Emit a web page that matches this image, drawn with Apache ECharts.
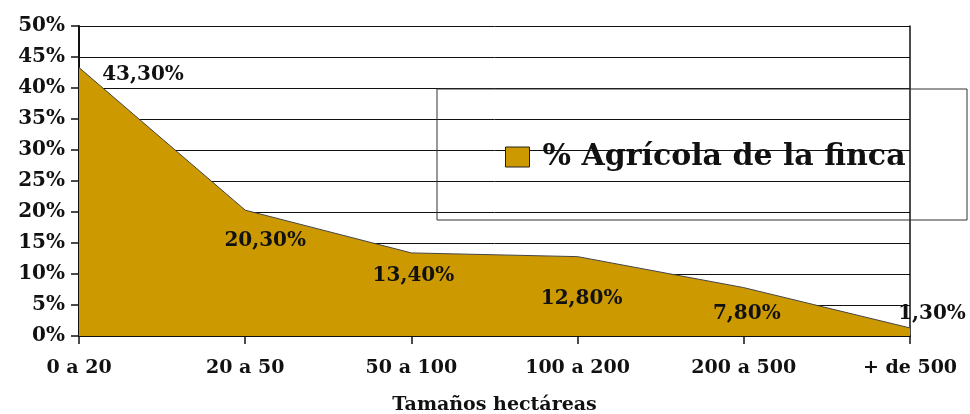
<!DOCTYPE html>
<html>
<head>
<meta charset="utf-8">
<script src="https://cdn.jsdelivr.net/npm/echarts@6/dist/echarts.min.js"></script>
<style>
html,body{margin:0;padding:0;background:#fff;}
#chart{width:970px;height:414px;}
</style>
</head>
<body>
<div id="chart"></div>
<script>
const categories = ['0 a 20', '20 a 50', '50 a 100', '100 a 200', '200 a 500', '+ de 500'];
const values = [43.3, 20.3, 13.4, 12.8, 7.8, 1.3];
const seriesName = '% Agrícola de la finca';
const axisName = 'Tamaños hectáreas';

const labelOffsets = [[64, 7], [20, 31], [2, 23], [4, 42], [3, 26], [22, -14]];
const FONT = '"DejaVu Serif", "Liberation Serif", serif';

const chart = echarts.init(document.getElementById('chart'));
const data = values.map((v, i) => ({
  value: v,
  label: { offset: labelOffsets[i] }
}));

chart.setOption({
  animation: false,
  backgroundColor: '#fff',
  grid: { left: 79, right: 60, top: 26, bottom: 78, outerBoundsMode: 'none', containLabel: false },
  legend: {
    data: [seriesName],
    left: 505,
    top: 142,
    padding: 0,
    icon: 'rect',
    itemWidth: 24,
    itemHeight: 20,
    itemGap: 10,
    itemStyle: { color: '#CC9900', borderColor: '#222', borderWidth: 1 },
    textStyle: { fontFamily: FONT, fontWeight: 'bold', fontSize: 30, color: '#111', padding: [0, 0, 0, 8] }
  },
  graphic: [{
    type: 'rect',
    shape: { x: 437, y: 89, width: 530, height: 131 },
    style: { fill: 'none', stroke: '#333', lineWidth: 1 },
    z: 10
  }],
  xAxis: {
    type: 'category',
    data: categories,
    boundaryGap: false,
    name: axisName,
    nameLocation: 'middle',
    nameGap: 60,
    nameTextStyle: { fontFamily: FONT, fontWeight: 'bold', fontSize: 19, color: '#111' },
    axisLine: { lineStyle: { color: '#111', width: 2 } },
    axisTick: { show: true, length: 8, lineStyle: { color: '#111', width: 1.5 } },
    axisLabel: { fontFamily: FONT, fontWeight: 'bold', fontSize: 19, color: '#111', margin: 23 },
    splitLine: { show: false }
  },
  yAxis: [{
    type: 'value',
    min: 0,
    max: 50,
    interval: 5,
    axisLine: { show: true, lineStyle: { color: '#111', width: 2 } },
    axisTick: { show: true, length: 8, lineStyle: { color: '#111', width: 1.5 } },
    axisLabel: { formatter: '{value}%', fontFamily: FONT, fontWeight: 'bold', fontSize: 20, color: '#111', margin: 14 },
    splitLine: { show: true, lineStyle: { color: '#111', width: 1 } }
  }, {
    type: 'value',
    min: 0,
    max: 50,
    interval: 5,
    position: 'right',
    axisLine: { show: true, lineStyle: { color: '#111', width: 1.5 } },
    axisTick: { show: false },
    axisLabel: { show: false },
    splitLine: { show: false }
  }],
  series: [{
    name: seriesName,
    type: 'line',
    data: data,
    symbol: 'circle',
    symbolSize: 0,
    showSymbol: true,
    lineStyle: { color: '#444', width: 1 },
    itemStyle: { color: '#CC9900' },
    areaStyle: { color: '#CC9900', opacity: 1 },
    label: {
      show: true,
      position: 'inside',
      formatter: p => p.value.toFixed(2).replace('.', ',') + '%',
      fontFamily: FONT,
      fontWeight: 'bold',
      fontSize: 20,
      color: '#111'
    },
    z: 2
  }]
});
</script>
</body>
</html>
